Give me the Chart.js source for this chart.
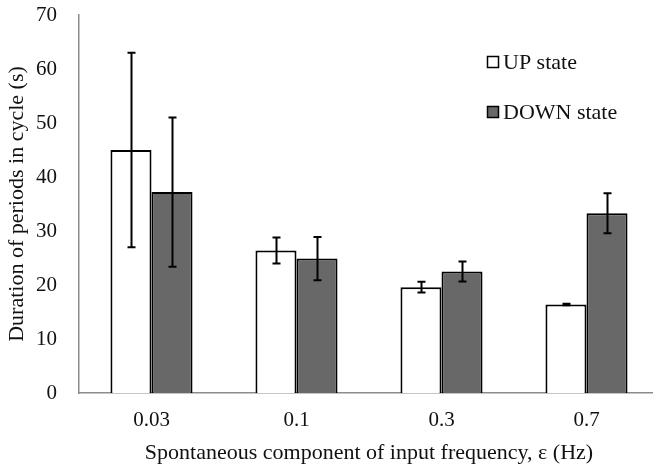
<!DOCTYPE html>
<html>
<head>
<meta charset="utf-8">
<script src="https://cdn.jsdelivr.net/npm/chart.js@4.4.1/dist/chart.umd.min.js"></script>
<style>
  html, body { margin: 0; padding: 0; background: #fff; overflow: hidden; width: 653px; height: 468px; }
  #wrap { position: absolute; left: 0; top: 0; width: 665px; height: 468px; }
</style>
</head>
<body>
<div id="wrap"><canvas id="c" width="665" height="468"></canvas></div>
<script>
const categories = ['0.03', '0.1', '0.3', '0.7'];
const seriesNames = ['UP state', 'DOWN state'];
const upValues = [45, 26.4, 19.6, 16.4];
const upErrors = [18, 2.4, 1.0, 0.15];
const downValues = [37.2, 24.9, 22.5, 33.3];
const downErrors = [13.8, 4.0, 1.85, 3.7];
const yTicks = [0, 10, 20, 30, 40, 50, 60, 70];

const FONT = "'Liberation Serif', 'Times New Roman', serif";
const TXT = '#111111';

const errorBarPlugin = {
  id: 'errorBars',
  afterDatasetsDraw(chart) {
    const ctx = chart.ctx;
    const y = chart.scales.y;
    ctx.save();
    ctx.strokeStyle = '#000';
    ctx.lineWidth = 2;
    chart.data.datasets.forEach((ds, i) => {
      const meta = chart.getDatasetMeta(i);
      meta.data.forEach((bar, j) => {
        const v = ds.data[j], e = ds.errors[j];
        const x = Math.round(bar.x) + 0.5;
        const yt = y.getPixelForValue(v + e);
        const yb = y.getPixelForValue(v - e);
        ctx.beginPath();
        ctx.moveTo(x, yt); ctx.lineTo(x, yb);
        ctx.moveTo(x - 4, yt); ctx.lineTo(x + 4, yt);
        ctx.moveTo(x - 4, yb); ctx.lineTo(x + 4, yb);
        ctx.stroke();
      });
    });
    ctx.restore();
  }
};

const legendPlugin = {
  id: 'customLegend',
  afterDraw(chart) {
    const ctx = chart.ctx;
    ctx.save();
    ctx.font = '22px ' + FONT;
    ctx.textBaseline = 'middle';
    ctx.textAlign = 'left';
    const rows = [62, 112];
    chart.data.datasets.forEach((ds, i) => {
      const cy = rows[i];
      ctx.fillStyle = ds.backgroundColor;
      ctx.fillRect(487, cy - 6, 12, 12);
      ctx.strokeStyle = '#000';
      ctx.lineWidth = 1.5;
      ctx.strokeRect(487.5, cy - 5.5, 11, 11);
      ctx.fillStyle = TXT;
      ctx.fillText(ds.label, 503, cy + 1);
    });
    ctx.restore();
  }
};

new Chart(document.getElementById('c'), {
  type: 'bar',
  data: {
    labels: categories,
    datasets: [
      { label: seriesNames[0], data: upValues, errors: upErrors, backgroundColor: '#ffffff', borderColor: '#000000', borderWidth: 2 },
      { label: seriesNames[1], data: downValues, errors: downErrors, backgroundColor: '#686868', borderColor: '#000000', borderWidth: 2 }
    ]
  },
  options: {
    responsive: false,
    animation: false,
    events: [],
    layout: { padding: { top: 15, right: 6, left: 0, bottom: 0 } },
    plugins: { legend: { display: false }, tooltip: { enabled: false } },
    datasets: { bar: { categoryPercentage: 0.566, barPercentage: 1.0 } },
    scales: {
      x: {
        grid: { display: false, drawTicks: false },
        border: { display: true, color: '#8c8c8c', width: 1.5 },
        ticks: { color: TXT, font: { family: FONT, size: 21 }, padding: 15, maxRotation: 0 },
        title: { display: true, text: 'Spontaneous component of input frequency, ε (Hz)', color: TXT, font: { family: FONT, size: 22 }, padding: { top: 2, bottom: 2 } },
        afterFit(s) { s.height = 75; }
      },
      y: {
        min: 0, max: 70,
        afterBuildTicks(s) { s.ticks = yTicks.map(v => ({ value: v })); },
        grid: { display: false, drawTicks: false },
        border: { display: true, color: '#8c8c8c', width: 1.5 },
        ticks: { color: TXT, font: { family: FONT, size: 21 }, padding: 22 },
        title: { display: true, text: 'Duration of periods in cycle (s)', color: TXT, font: { family: FONT, size: 22 }, padding: { top: 4, bottom: 0 } },
        afterFit(s) { s.width = 79; s.paddingTop = 0; }
      }
    }
  },
  plugins: [errorBarPlugin, legendPlugin]
});
</script>
</body>
</html>
